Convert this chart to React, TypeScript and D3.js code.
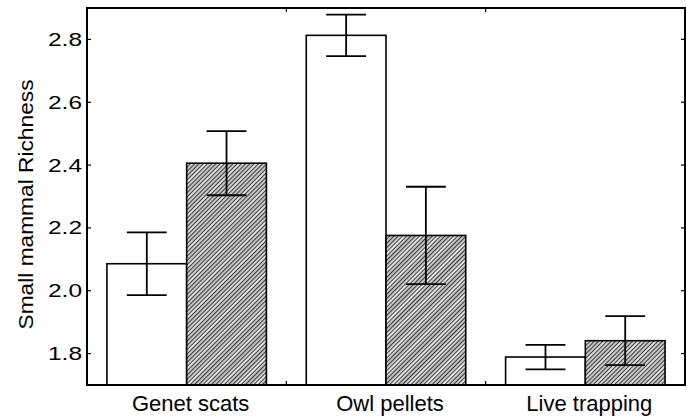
import * as d3 from 'd3';

// Data
const categories = ['Genet scats', 'Owl pellets', 'Live trapping'];
const openMeans = [2.086, 2.813, 1.789];
const openErrors = [0.1, 0.066, 0.039];
const hatchedMeans = [2.406, 2.176, 1.841];
const hatchedErrors = [0.102, 0.155, 0.078];
const yTicks = [1.8, 2.0, 2.2, 2.4, 2.6, 2.8];

const width = 687;
const height = 418;
const margin = { top: 8, right: 2, bottom: 33, left: 87 };
const font = 'Liberation Sans, Arial, sans-serif';

export default function App() {
  const x = d3.scaleBand<string>()
    .domain(categories)
    .range([margin.left, width - margin.right])
    .paddingInner(0.2)
    .paddingOuter(0.1);

  const y = d3.scaleLinear()
    .domain([1.7, 2.9])
    .range([height - margin.bottom, margin.top]);

  const barW = x.bandwidth() / 2;
  const step = x.step();
  const x0 = margin.left;
  const x1 = width - margin.right;
  const y0 = height - margin.bottom;
  const y1 = margin.top;

  // x ticks sit at band boundaries
  const xBoundaries = categories.slice(1).map(c => (x(c) as number) - (step - x.bandwidth()) / 2);

  const series = [
    { means: openMeans, errors: openErrors, fill: 'white', offset: 0 },
    { means: hatchedMeans, errors: hatchedErrors, fill: 'url(#hatch)', offset: 1 },
  ];

  return (
    <svg
      width={width}
      height={height}
      style={{ position: 'absolute', left: 0, top: 0, background: 'white' }}
    >
      <defs>
        <pattern id="hatch" width={12} height={12} patternUnits="userSpaceOnUse" patternTransform="rotate(45)">
          <rect width={12} height={12} fill="#c2c2c2" />
          <rect x={6.5} width={5} height={12} fill="#e4e4e4" />
          {[1.5, 4.5, 7.5, 10.5].map(p => (
            <line key={p} x1={p} x2={p} y1={0} y2={12} stroke="#2a2a2a" strokeWidth={0.9} />
          ))}
        </pattern>
      </defs>

      {/* Bars */}
      {series.map((s, si) =>
        categories.map((c, i) => {
          const left = (x(c) as number) + s.offset * barW;
          const top = y(s.means[i]);
          return (
            <rect
              key={`${si}-${i}`}
              x={left}
              y={top}
              width={barW}
              height={y0 - top}
              fill={s.fill}
              stroke="black"
              strokeWidth={1.6}
            />
          );
        })
      )}

      {/* Error bars */}
      {series.map((s, si) =>
        categories.map((c, i) => {
          const cx = (x(c) as number) + s.offset * barW + barW / 2;
          const hi = y(s.means[i] + s.errors[i]);
          const lo = y(s.means[i] - s.errors[i]);
          const hw = barW / 4;
          return (
            <g key={`e${si}-${i}`} stroke="black" strokeWidth={1.8}>
              <line x1={cx} x2={cx} y1={hi} y2={lo} />
              <line x1={cx - hw} x2={cx + hw} y1={hi} y2={hi} />
              <line x1={cx - hw} x2={cx + hw} y1={lo} y2={lo} />
            </g>
          );
        })
      )}

      {/* Frame */}
      <rect x={x0} y={y1} width={x1 - x0} height={y0 - y1} fill="none" stroke="black" strokeWidth={2} />

      {/* Y ticks (left and right, inward) */}
      {yTicks.map(t => (
        <g key={t}>
          <line x1={x0} x2={x0 + 4} y1={y(t)} y2={y(t)} stroke="black" strokeWidth={1.2} />
          <line x1={x1 - 4} x2={x1} y1={y(t)} y2={y(t)} stroke="black" strokeWidth={1.2} />
          <text
            x={82}
            y={y(t)}
            dy={6.5}
            textAnchor="end"
            fontFamily={font}
            fontSize={18.5}
            textLength={34}
            lengthAdjust="spacingAndGlyphs"
            fill="black"
          >
            {d3.format('.1f')(t)}
          </text>
        </g>
      ))}

      {/* X ticks (top and bottom, inward) */}
      {xBoundaries.map((b, i) => (
        <g key={i}>
          <line x1={b} x2={b} y1={y0} y2={y0 - 4} stroke="black" strokeWidth={1.2} />
          <line x1={b} x2={b} y1={y1} y2={y1 + 4} stroke="black" strokeWidth={1.2} />
        </g>
      ))}

      {/* Category labels */}
      {categories.map(c => (
        <text
          key={c}
          x={(x(c) as number) + x.bandwidth() / 2 + 4}
          y={411}
          textAnchor="middle"
          fontFamily={font}
          fontSize={22}
          fill="black"
        >
          {c}
        </text>
      ))}

      {/* Y axis title */}
      <text
        x={0}
        y={0}
        transform={`translate(33, ${(y0 + y1) / 2 + 8}) rotate(-90)`}
        textAnchor="middle"
        fontFamily={font}
        fontSize={20.5}
        textLength={250}
        lengthAdjust="spacingAndGlyphs"
        fill="black"
      >
        Small mammal Richness
      </text>
    </svg>
  );
}
